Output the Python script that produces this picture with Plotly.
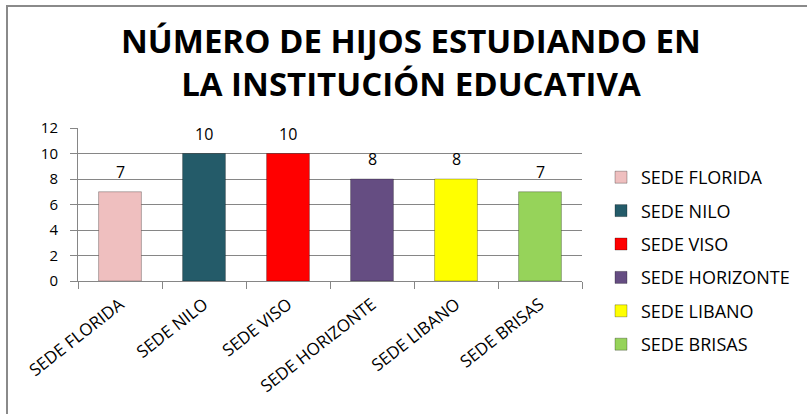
import plotly.graph_objects as go

categories = ["SEDE FLORIDA", "SEDE NILO", "SEDE VISO", "SEDE HORIZONTE", "SEDE LIBANO", "SEDE BRISAS"]
values = [7, 10, 10, 8, 8, 7]
colors = ["#EFBFBF", "#245B69", "#FF0000", "#654D82", "#FFFF00", "#96D35A"]
y_ticks = [0, 2, 4, 6, 8, 10, 12]
title_text = "<b>NÚMERO DE HIJOS ESTUDIANDO EN<br>LA INSTITUCIÓN EDUCATIVA</b>"

W, H = 807, 414
L, R, T, B = 78, 225, 128, 133
pw = W - L - R
ph = H - T - B

FONT = "Open Sans"

fig = go.Figure()
for cat, val, col in zip(categories, values, colors):
    fig.add_trace(go.Bar(
        x=[cat], y=[val], name=cat, legendgroup=cat,
        marker=dict(color=col, line=dict(color="rgba(0,0,0,0.28)", width=1)),
        width=0.51, hoverinfo="x+y",
    ))

annotations = []
for cat, val in zip(categories, values):
    annotations.append(dict(
        x=cat, y=val, xref="x", yref="y", text=str(val), showarrow=False,
        yanchor="bottom", yshift=7, font=dict(family=FONT, size=16, color="#000"),
    ))


def px_x(p):
    return (p - L) / pw


def px_y(p):
    return (H - B - p) / ph


annotations.append(dict(
    x=px_x(411), y=px_y(16), xref="paper", yref="paper", xanchor="center", yanchor="top",
    text=title_text, showarrow=False, align="center",
    font=dict(family=FONT, size=33, color="#000"),
))

fig.update_layout(
    width=W, height=H,
    margin=dict(l=L, r=R, t=T, b=B, autoexpand=False),
    paper_bgcolor="white", plot_bgcolor="white",
    barmode="overlay",
    xaxis=dict(
        type="category", showline=True, linecolor="#868686", linewidth=1,
        ticks="outside", tickson="boundaries", ticklen=7, tickcolor="#868686",
        tickangle=-38, tickfont=dict(family=FONT, size=17, color="#000"),
        ticklabelstandoff=6,
        showgrid=False,
    ),
    yaxis=dict(
        range=[0, 12], tickvals=y_ticks, showline=True, linecolor="#868686", linewidth=1,
        ticks="outside", ticklen=7, tickcolor="#868686",
        gridcolor="#868686", gridwidth=1, zeroline=False,
        ticklabelstandoff=9,
        tickfont=dict(family=FONT, size=15, color="#000"),
    ),
    legend=dict(
        xref="container", yref="container",
        x=601 / W, xanchor="left", y=1 - 159 / H, yanchor="top",
        font=dict(family=FONT, size=18, color="#000"),
        tracegroupgap=7, bgcolor="rgba(0,0,0,0)",
    ),
    annotations=annotations,
    shapes=[dict(
        type="rect", xref="paper", yref="paper",
        x0=px_x(7), x1=px_x(830), y0=px_y(440), y1=px_y(6),
        line=dict(color="#8A8A8A", width=2), fillcolor="rgba(0,0,0,0)", layer="below",
    )],
)

fig.write_html("out.html", config={"displayModeBar": False},
               post_script="document.body.style.margin='0';")
